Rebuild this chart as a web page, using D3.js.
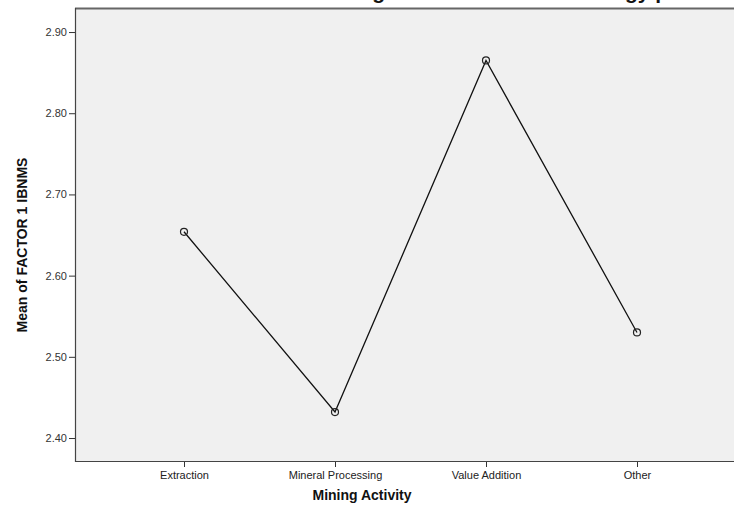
<!DOCTYPE html>
<html><head><meta charset="utf-8">
<script src="https://cdn.jsdelivr.net/npm/d3@7"></script>
<style>body{margin:0;background:#fff;} svg{display:block;font-family:Arial,"Liberation Sans",sans-serif;}</style>
</head><body><svg id="c" width="734" height="508"></svg>
<script>
const categories = ["Extraction", "Mineral Processing", "Value Addition", "Other"];
const meanValues = [2.654, 2.432, 2.865, 2.53];
const yTicks = [2.40, 2.50, 2.60, 2.70, 2.80, 2.90];
const titleText = "Means Plot of Mining Business and Technology practices";
const xTitle = "Mining Activity";
const yTitle = "Mean of FACTOR 1 IBNMS";

const svg = d3.select("#c");
const plot = {left: 75, top: 8, right: 745, bottom: 461};
const y = d3.scaleLinear().domain([2.3717, 2.9296]).range([plot.bottom, plot.top]);
const x = d3.scalePoint().domain(categories).range([184, 637]);

svg.append("rect").attr("x", plot.left).attr("y", plot.top)
  .attr("width", plot.right - plot.left).attr("height", plot.bottom - plot.top)
  .attr("fill", "#f0f0f0");
svg.append("line").attr("x1", plot.left).attr("x2", plot.right).attr("y1", plot.top + 0.5).attr("y2", plot.top + 0.5).attr("stroke", "#666").attr("stroke-width", 2);
svg.append("line").attr("x1", plot.left).attr("x2", plot.right).attr("y1", plot.bottom + 0.5).attr("y2", plot.bottom + 0.5).attr("stroke", "#444").attr("stroke-width", 1.2);
svg.append("line").attr("x1", plot.left + 0.5).attr("x2", plot.left + 0.5).attr("y1", plot.top).attr("y2", plot.bottom + 1).attr("stroke", "#444").attr("stroke-width", 1.2);

const yAxis = svg.append("g").attr("transform", `translate(${plot.left},0)`)
  .call(d3.axisLeft(y).tickValues(yTicks).tickFormat(d3.format(".2f")).tickSize(6).tickPadding(2));
yAxis.select(".domain").remove();
yAxis.selectAll("line").attr("stroke", "#333");
yAxis.selectAll("text").attr("fill", "#333").style("font-size", "11px").style("font-family", "Arial, 'Liberation Sans', sans-serif");

const xAxis = svg.append("g").attr("transform", `translate(0,${plot.bottom + 1})`)
  .call(d3.axisBottom(x).tickSize(5).tickPadding(4));
xAxis.select(".domain").remove();
xAxis.selectAll("line").attr("stroke", "#333");
xAxis.selectAll("text").attr("fill", "#222").style("font-size", "11px").style("font-family", "Arial, 'Liberation Sans', sans-serif");

const data = categories.map((c, i) => ({c, v: meanValues[i]}));
svg.append("path").datum(data)
  .attr("d", d3.line().x(d => x(d.c)).y(d => y(d.v)))
  .attr("fill", "none").attr("stroke", "#111").attr("stroke-width", 1.3);
svg.selectAll("circle.pt").data(data).join("circle").attr("class", "pt")
  .attr("cx", d => x(d.c)).attr("cy", d => y(d.v)).attr("r", 3.5)
  .attr("fill", "none").attr("stroke", "#222").attr("stroke-width", 1.2);

svg.append("text").attr("x", 362).attr("y", 500).attr("text-anchor", "middle")
  .style("font-size", "14px").style("font-weight", "bold").attr("fill", "#111").text(xTitle);
svg.append("text").attr("transform", "translate(27,245) rotate(-90)").attr("text-anchor", "middle")
  .style("font-size", "14px").style("font-weight", "bold").attr("fill", "#111").text(yTitle);

const t = svg.append("text").attr("y", -1).style("font-size", "21px").style("font-weight", "bold").attr("fill", "#111").text(titleText);
const idx = titleText.indexOf("gy p");
const off = t.node().getSubStringLength(0, idx);
t.attr("x", 625 - off);
</script></body></html>
